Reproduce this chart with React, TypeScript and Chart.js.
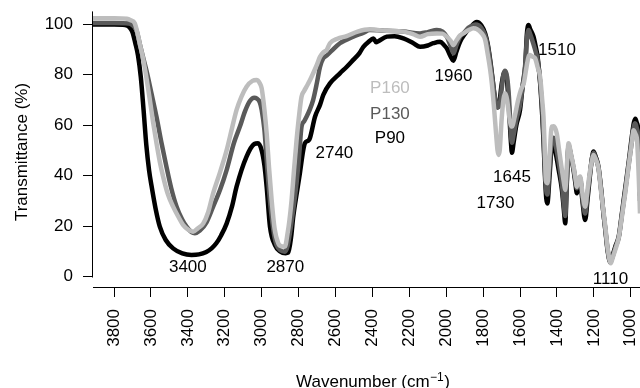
import React, { useEffect, useRef } from "react";
import { Chart, registerables } from "chart.js";

Chart.register(...registerables);

const FONT = '"Liberation Sans", Arial, Helvetica, sans-serif';
const BLACK = "#000000";
const DARK = "#5a5a5a";
const LIGHT = "#bdbdbd";

// Axis ticks
const xTicks = [3800, 3600, 3400, 3200, 3000, 2800, 2600, 2400, 2200, 2000, 1800, 1600, 1400, 1200, 1000];
const yTicks = [0, 20, 40, 60, 80, 100];

// P90 (black)
const p90Wn = [3914, 3800, 3740, 3715, 3700, 3685, 3670, 3655, 3640, 3625, 3610, 3597, 3575, 3552, 3520, 3480, 3430, 3380, 3340, 3300, 3270, 3245, 3220, 3190, 3160, 3136, 3082, 3040, 3020, 3000, 2985, 2973, 2955, 2928, 2900, 2870, 2856, 2840, 2829, 2810, 2793, 2775, 2766, 2745, 2738, 2711, 2684, 2666, 2630, 2576, 2540, 2504, 2470, 2449, 2420, 2395, 2380, 2368, 2322, 2280, 2232, 2180, 2142, 2100, 2070, 2033, 2010, 1997, 1975, 1961, 1945, 1925, 1900, 1871, 1845, 1834, 1810, 1789, 1775, 1762, 1750, 1735, 1722, 1712, 1700, 1690, 1681, 1670, 1660, 1650, 1644, 1635, 1620, 1600, 1585, 1572, 1563, 1554, 1545, 1527, 1515, 1505, 1491, 1480, 1473, 1465, 1458, 1452, 1440, 1428, 1418, 1410, 1390, 1373, 1362, 1355, 1347, 1337, 1325, 1310, 1300, 1292, 1283, 1274, 1262, 1247, 1235, 1220, 1210, 1202, 1190, 1175, 1160, 1148, 1138, 1125, 1111, 1098, 1084, 1065, 1048, 1030, 1012, 995, 983, 975, 968, 957, 950];
const p90T = [99.8, 99.8, 99.6, 98.6, 96.8, 92.5, 87.5, 79, 66, 52, 42, 36, 27, 19.8, 14.5, 11.2, 9.2, 8.6, 8.8, 9.8, 11.3, 13.3, 16.3, 21, 28, 35.6, 47.5, 52.5, 52.8, 50, 44, 35.6, 19.8, 12.5, 10, 9.3, 9.5, 16, 23.7, 33, 40.9, 50, 52.8, 54, 55, 63.3, 68, 72, 76.5, 80.5, 83, 85.8, 88.5, 91, 93, 94.3, 92.8, 93.2, 95, 95.2, 94.3, 92.5, 91, 91.5, 92.4, 93, 91.5, 90.4, 87, 85.5, 89, 93, 96, 98.5, 100.5, 100.8, 99.5, 96.3, 92, 85.8, 79, 70, 67, 69, 76, 80, 81, 77, 67, 54, 49, 53, 60, 66, 76, 83, 96, 99.6, 98, 95, 91, 87, 76.5, 64, 54, 40, 31, 29, 40, 51.4, 52, 50, 42, 34.3, 26, 21.1, 36, 51.4, 48, 42.2, 37, 33, 36, 38.3, 30, 22.4, 30, 40.9, 47, 49.5, 47.5, 43.5, 34, 25, 18.5, 10, 5.9, 8.5, 11.9, 16, 25.1, 35, 44.9, 55, 61, 62.5, 61, 56, 32];

// P130 (dark grey)
const p130Wn = [3914, 3800, 3720, 3700, 3679, 3660, 3645, 3624, 3597, 3570, 3543, 3516, 3490, 3461, 3430, 3407, 3380, 3362, 3335, 3299, 3263, 3225, 3190, 3150, 3118, 3090, 3064, 3040, 3028, 3010, 3000, 2985, 2973, 2960, 2946, 2930, 2919, 2900, 2874, 2860, 2847, 2830, 2811, 2797, 2784, 2770, 2757, 2740, 2721, 2700, 2684, 2666, 2648, 2620, 2576, 2504, 2450, 2414, 2322, 2232, 2142, 2100, 2051, 2020, 1997, 1975, 1961, 1945, 1925, 1907, 1880, 1853, 1840, 1810, 1789, 1775, 1762, 1750, 1735, 1722, 1712, 1700, 1690, 1681, 1670, 1660, 1650, 1644, 1635, 1620, 1600, 1585, 1572, 1563, 1554, 1545, 1527, 1515, 1505, 1491, 1480, 1473, 1465, 1458, 1452, 1440, 1428, 1418, 1410, 1390, 1373, 1362, 1355, 1347, 1337, 1325, 1310, 1300, 1292, 1283, 1274, 1262, 1247, 1235, 1220, 1210, 1202, 1190, 1175, 1160, 1148, 1138, 1125, 1111, 1098, 1084, 1065, 1048, 1030, 1012, 995, 983, 977, 968, 957, 950];
const p130T = [100.4, 100.4, 100.2, 99.5, 97.6, 92, 87.5, 81.5, 72.5, 63.3, 53, 43.5, 35, 27.7, 22.5, 19.8, 17.6, 17.2, 18.2, 21.5, 27.7, 34.5, 42.2, 53, 59.4, 65.5, 69.5, 70.8, 70.6, 69, 66, 58, 46.2, 34, 23.7, 15.5, 12.5, 10.5, 9.9, 12, 17.2, 26, 37, 48, 59.4, 61.5, 63.3, 66, 70, 77, 83, 86.5, 87.5, 89.5, 92.4, 95, 96.5, 97.6, 97.3, 97, 96.3, 96.8, 97.6, 97, 95, 91, 88.4, 91.5, 95, 96.3, 98.5, 99.6, 99.8, 98.5, 95.5, 91.5, 85, 78.5, 70.5, 67, 67.5, 74, 80, 81.5, 79, 71, 57, 53, 56, 62, 68, 76, 84, 94, 97.6, 96, 92, 89, 86, 77, 66, 56, 42, 34, 32.5, 43, 54.5, 55, 53, 45, 36.5, 28, 24, 37, 52, 48.5, 43, 38.5, 35, 37.5, 39, 31, 25, 32, 41.5, 47, 49, 47, 43, 34, 25, 19, 10.5, 5.6, 8, 11.5, 15.5, 24.5, 34, 44, 53, 59.5, 60.7, 59, 52, 30];

// P160 (light grey)
const p160Wn = [3914, 3800, 3730, 3710, 3688, 3670, 3660, 3643, 3625, 3606, 3588, 3570, 3552, 3534, 3510, 3480, 3450, 3426, 3400, 3372, 3345, 3317, 3290, 3263, 3225, 3190, 3160, 3136, 3110, 3082, 3050, 3028, 3010, 3000, 2985, 2973, 2960, 2946, 2930, 2910, 2890, 2874, 2860, 2850, 2838, 2825, 2811, 2797, 2784, 2770, 2757, 2740, 2721, 2700, 2684, 2666, 2648, 2630, 2590, 2540, 2480, 2414, 2322, 2232, 2180, 2142, 2100, 2051, 2020, 1997, 1975, 1961, 1945, 1925, 1907, 1880, 1853, 1835, 1810, 1789, 1775, 1762, 1753, 1740, 1730, 1722, 1717, 1710, 1700, 1690, 1681, 1670, 1660, 1650, 1644, 1630, 1610, 1595, 1580, 1565, 1554, 1546, 1530, 1518, 1505, 1491, 1480, 1473, 1465, 1460, 1452, 1440, 1428, 1418, 1401, 1390, 1373, 1362, 1355, 1347, 1337, 1325, 1310, 1300, 1292, 1283, 1274, 1262, 1247, 1235, 1220, 1210, 1202, 1190, 1175, 1160, 1148, 1138, 1125, 1108, 1098, 1084, 1065, 1048, 1030, 1012, 995, 985, 975, 966, 957, 950];
const p160T = [102.3, 102.3, 102.1, 101.5, 100.3, 95.5, 92, 86.5, 79, 70, 61, 52.8, 45.5, 39.6, 33, 27.7, 23.5, 20.5, 18.7, 17.8, 19.2, 21, 25.5, 33, 41.5, 50, 59, 66, 71.2, 75.2, 77.5, 77.8, 76.5, 74.5, 66, 56.7, 43, 30.3, 19, 13.2, 12, 11.9, 17, 22, 30.3, 42, 54, 64, 71.2, 73.5, 75.2, 77.5, 80.5, 84, 87, 88.8, 89.7, 92.4, 94.2, 95.2, 97, 97.9, 97.3, 97, 96, 95, 96, 96.3, 96.2, 95, 93.2, 91.7, 93.5, 95.5, 96.3, 97.5, 98.3, 98, 96.5, 93.7, 88, 82, 76.5, 66, 56.7, 50, 48.2, 50, 62, 70, 72.6, 70, 64, 60, 59.4, 63, 70, 74, 76.5, 83, 87, 87.7, 87, 86.4, 83, 79, 70, 63.3, 48, 38, 37, 48, 59.4, 59.5, 56.7, 51, 42.2, 37, 34.3, 43, 52.8, 49, 43.5, 39, 35.6, 38.5, 39.6, 33, 27.7, 34, 42.2, 46, 48.2, 46.5, 42.9, 33, 26, 19.8, 11, 5.3, 7.5, 10.6, 15.5, 23.7, 33, 43.5, 53, 58, 56.5, 54, 40, 25];

// Peak annotations (text, wavenumber, transmittance at text centre)
const peakText = ["3400", "2870", "2740", "1960", "1510", "1645", "1730", "1110"];
const peakWn = [3400, 2872, 2606, 1961, 1400, 1644, 1733, 1110];
const peakT = [4.4, 4.4, 49.5, 79.8, 90, 39.7, 29.6, -0.4];

// Legend labels placed inside the plot
const seriesNames = ["P160", "P130", "P90"];
const seriesColors = [LIGHT, DARK, BLACK];
const legendWn = 2305;
const legendT = [75.2, 65, 55.2];

const pts = (wn: number[], t: number[]) => wn.map((x, i) => ({ x, y: t[i] }));

const overlay = {
  id: "overlay",
  afterDraw(chart: any) {
    const { ctx, scales } = chart;
    const xs = scales.x;
    const ys = scales.y;
    ctx.save();
    // y axis line from top to 0
    ctx.strokeStyle = "#000";
    ctx.lineWidth = 1;
    ctx.beginPath();
    const ax = Math.round(xs.left) - 0.5;
    ctx.moveTo(ax, ys.top);
    ctx.lineTo(ax, Math.round(ys.getPixelForValue(0)) + 0.5);
    ctx.stroke();

    const cap = 0.358 * 17;
    ctx.font = `17px ${FONT}`;
    ctx.textAlign = "center";
    ctx.textBaseline = "alphabetic";
    ctx.fillStyle = "#000";
    peakText.forEach((t, i) => {
      ctx.fillText(t, xs.getPixelForValue(peakWn[i]), ys.getPixelForValue(peakT[i]) + cap);
    });
    seriesNames.forEach((t, i) => {
      ctx.fillStyle = seriesColors[i];
      ctx.fillText(t, xs.getPixelForValue(legendWn), ys.getPixelForValue(legendT[i]) + cap);
    });

    // y title
    ctx.fillStyle = "#000";
    ctx.save();
    ctx.translate(26.7, 152);
    ctx.rotate(-Math.PI / 2);
    ctx.textAlign = "center";
    ctx.fillText("Transmittance (%)", 0, 0);
    ctx.restore();

    // x title with superscript
    const a = "Wavenumber (cm";
    const sup = "\u22121";
    const b = ")";
    ctx.font = `17px ${FONT}`;
    const wa = ctx.measureText(a).width;
    const wb = ctx.measureText(b).width;
    ctx.font = `12px ${FONT}`;
    const ws = ctx.measureText(sup).width;
    const total = wa + ws + wb + 1;
    let x0 = 373 - total / 2;
    const base = 386.7;
    ctx.textAlign = "left";
    ctx.font = `17px ${FONT}`;
    ctx.fillText(a, x0, base);
    x0 += wa;
    ctx.font = `12px ${FONT}`;
    ctx.fillText(sup, x0 + 0.5, base - 5.5);
    x0 += ws + 1;
    ctx.font = `17px ${FONT}`;
    ctx.fillText(b, x0, base);
    ctx.restore();
  },
};

export default function App() {
  const ref = useRef<HTMLCanvasElement>(null);
  useEffect(() => {
    const canvas = ref.current!;
    const common = { pointRadius: 0, cubicInterpolationMode: "monotone", fill: false };
    const chart = new Chart(canvas, {
      type: "line",
      data: {
        datasets: [
          { label: "P160", data: pts(p160Wn, p160T), borderColor: LIGHT, borderWidth: 4.5, order: 0, ...common },
          { label: "P130", data: pts(p130Wn, p130T), borderColor: DARK, borderWidth: 4.5, order: 1, ...common },
          { label: "P90", data: pts(p90Wn, p90T), borderColor: BLACK, borderWidth: 4.5, order: 2, ...common },
        ] as any,
      },
      options: {
        animation: false,
        responsive: false,
        events: [],
        layout: { padding: { top: 11.4, left: 0, right: 0, bottom: 0 } },
        plugins: { legend: { display: false }, tooltip: { enabled: false } },
        scales: {
          x: {
            type: "linear",
            reverse: true,
            min: 950,
            max: 3914,
            afterBuildTicks: (s: any) => {
              s.ticks = xTicks.map((v) => ({ value: v }));
            },
            afterFit: (s: any) => {
              s.height = 101;
              s.paddingLeft = 0;
              s.paddingRight = 0;
            },
            ticks: {
              autoSkip: false,
              minRotation: 90,
              maxRotation: 90,
              padding: 12,
              color: "#000",
              font: { family: FONT, size: 17 },
              callback: (v: any) => String(v),
            },
            grid: { drawOnChartArea: false, drawTicks: true, tickLength: 10, tickColor: "#000", tickWidth: 1 },
            border: { display: true, color: "#000", width: 1 },
          },
          y: {
            type: "linear",
            min: -4.1,
            max: 105,
            afterBuildTicks: (s: any) => {
              s.ticks = yTicks.map((v) => ({ value: v }));
            },
            afterFit: (s: any) => {
              s.width = 93;
              s.paddingTop = 0;
              s.paddingBottom = 0;
            },
            ticks: {
              padding: 10,
              color: "#000",
              font: { family: FONT, size: 17 },
              callback: (v: any) => String(v),
            },
            grid: { drawOnChartArea: false, drawTicks: true, tickLength: 10, tickColor: "#000", tickWidth: 1 },
            border: { display: false },
          },
        },
      } as any,
      plugins: [overlay],
    });
    return () => chart.destroy();
  }, []);
  return (
    <div style={{ position: "absolute", left: 0, top: 0, width: 640, height: 388, overflow: "hidden", background: "#fff" }}>
      <canvas ref={ref} width={640} height={388} style={{ width: 640, height: 388, display: "block" }} />
    </div>
  );
}
